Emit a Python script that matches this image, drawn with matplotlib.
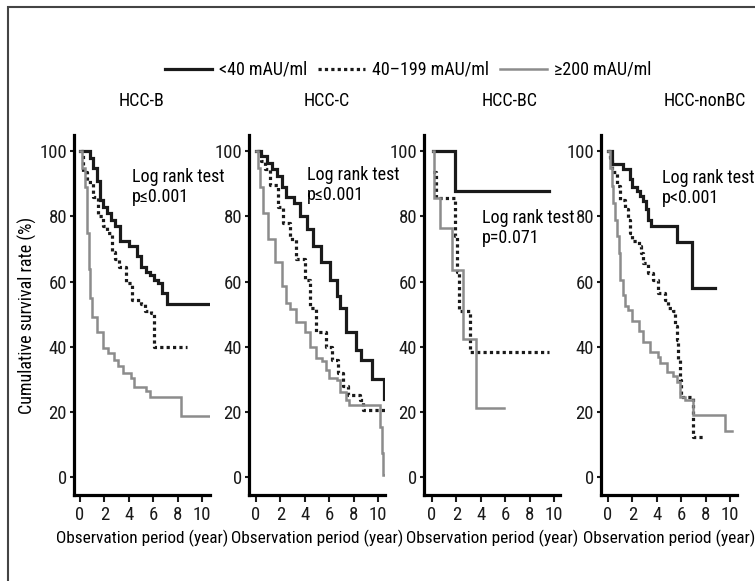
import matplotlib.pyplot as plt
from matplotlib import font_manager as fm
from matplotlib.patches import Rectangle
from matplotlib.lines import Line2D

# pick a narrow face if one is installed
fonts = fm.fontManager.ttflist
narrow = None
for want in ['Liberation Sans Narrow', 'Roboto Condensed', 'Open Sans Condensed', 'Noto Sans Condensed']:
    if any(f.name == want for f in fonts):
        narrow = (want, 'normal')
        break
if narrow is None:
    for f in fonts:
        if f.stretch in ('condensed', 'semi-condensed', 'extra-condensed') and f.style == 'normal':
            narrow = (f.name, f.stretch)
            break
if narrow is None:
    narrow = ('DejaVu Sans', 'normal')
    fs = 10.5
else:
    fs = 13
plt.rcParams['font.family'] = [narrow[0], 'DejaVu Sans']
plt.rcParams['font.stretch'] = narrow[1]

# Kaplan-Meier curves: (time in years, survival %)
titles = ['HCC-B', 'HCC-C', 'HCC-BC', 'HCC-nonBC']
pvals = ['p\u22640.001', 'p\u22640.001', 'p=0.071', 'p<0.001']

b_low_t = [0, 0.8, 1.1, 1.4, 1.67, 1.9, 2.2, 2.5, 2.9, 3.3, 4.0, 4.7, 5.0, 5.4, 5.7, 6.1, 6.4, 6.7, 7.1, 10.6]
b_low_s = [100, 98, 95, 91, 85, 83, 81, 79, 77, 72.5, 71, 68, 64.5, 63, 62, 60.5, 59.5, 56.5, 53, 53]
b_mid_t = [0.05, 0.25, 0.6, 1.1, 1.5, 1.9, 2.2, 2.6, 2.9, 3.2, 3.75, 4.3, 5.0, 5.3, 5.8, 6.1, 8.75]
b_mid_s = [100, 93.5, 90.5, 86, 80, 77, 75, 69, 67, 64.5, 59.5, 54.5, 53, 51, 50.5, 40, 40]
b_high_t = [0, 0.2, 0.4, 0.55, 0.7, 0.85, 1.0, 1.4, 1.9, 2.3, 2.75, 3.1, 3.5, 4.2, 4.45, 5.4, 5.7, 8.3, 10.8]
b_high_s = [100, 95, 89, 75, 64, 55, 49, 44.5, 39.5, 38, 36, 34, 32, 30.5, 27.5, 26.3, 24.7, 18.6, 18.6]

c_low_t = [0, 0.4, 0.9, 1.3, 1.7, 2.1, 2.5, 3.1, 3.6, 4.2, 4.7, 5.3, 6.1, 6.6, 6.9, 7.4, 8.2, 8.6, 9.5, 10.5, 10.6]
c_low_s = [100, 98.5, 96.5, 94.5, 92.5, 89, 86, 84, 80, 76, 71, 66, 60.5, 55.5, 52, 44.5, 39, 36, 30, 24, 24]
c_mid_t = [0.05, 0.4, 0.75, 1.15, 1.8, 2.2, 2.8, 3.3, 4.0, 4.4, 4.9, 5.7, 6.2, 6.75, 7.15, 7.55, 8.5, 8.75, 10.6]
c_mid_s = [100, 97, 94.5, 89.5, 83, 78, 73, 67, 60.5, 52, 44.5, 40, 36, 32, 28, 25.2, 23.7, 20.6, 20.6]
c_high_t = [0, 0.15, 0.35, 0.6, 1.0, 1.55, 2.1, 2.5, 2.8, 3.3, 4.0, 4.4, 4.9, 5.4, 5.75, 6.0, 6.6, 6.9, 7.4, 7.6, 10.2, 10.35, 10.45, 10.5]
c_high_s = [100, 95, 89, 81, 73, 66, 58.5, 53.5, 51.5, 47.5, 44.5, 40, 36.5, 35.5, 33, 30.5, 29.8, 26.2, 23.7, 22.2, 15.5, 7.3, 0.6, 0.6]

bc_low_t = [0.1, 1.87, 9.6]
bc_low_s = [100, 87.8, 87.8]
bc_mid_t = [0.1, 0.3, 1.85, 2.05, 2.2, 3.15, 9.6]
bc_mid_s = [93.5, 85.7, 74, 63, 51, 38.3, 38.3]
bc_high_t = [0.1, 0.15, 0.65, 1.6, 2.55, 3.58, 5.9]
bc_high_s = [100, 85.7, 76.6, 63.7, 42.4, 21.3, 21.3]

n_low_t = [0, 0.3, 1.2, 1.8, 2.0, 2.35, 2.6, 2.9, 3.1, 3.3, 3.5, 5.65, 6.85, 8.8]
n_low_s = [100, 96, 94.5, 91.4, 89, 87.8, 86.2, 84.7, 82.2, 79, 77, 72.2, 58.1, 58.1]
n_mid_t = [0, 0.2, 0.35, 0.7, 1.0, 1.4, 1.6, 1.8, 1.95, 2.5, 2.7, 2.9, 3.3, 3.7, 4.1, 4.7, 4.9, 5.35, 5.5, 5.65, 5.75, 5.9, 6.0, 7.0, 7.8]
n_mid_s = [100, 98, 93.5, 89.3, 85.2, 82.2, 79, 75, 72.4, 70.9, 68.9, 65.8, 62.7, 60.6, 56.6, 54.5, 52, 50.9, 46.3, 42.2, 36, 29.8, 24.7, 12.4, 12.4]
n_high_t = [0, 0.15, 0.3, 0.45, 0.57, 0.75, 0.9, 1.0, 1.2, 1.4, 1.65, 2.0, 2.5, 2.9, 3.45, 4.1, 4.25, 4.8, 5.35, 5.65, 5.9, 6.3, 7.0, 9.6, 10.2]
n_high_s = [100, 95, 89.3, 84, 79, 74, 68.9, 60.6, 56, 52.4, 51.4, 47.8, 44.7, 41.6, 38.5, 37, 35, 32.4, 31, 29.3, 24.7, 23.7, 19.1, 14.2, 14.2]

series = [
    [(b_low_t, b_low_s), (b_mid_t, b_mid_s), (b_high_t, b_high_s)],
    [(c_low_t, c_low_s), (c_mid_t, c_mid_s), (c_high_t, c_high_s)],
    [(bc_low_t, bc_low_s), (bc_mid_t, bc_mid_s), (bc_high_t, bc_high_s)],
    [(n_low_t, n_low_s), (n_mid_t, n_mid_s), (n_high_t, n_high_s)],
]

W, H = 755, 581
fig = plt.figure(figsize=(W / 100, H / 100), dpi=100)

# pixel positions of each panel: left spine, right end, zero tick
lefts = [74, 249, 424, 601]
rights = [210, 385, 560, 737]
zeros = [80, 256, 432, 608]
top, bottom = 135, 495
title_x = [142, 327, 510, 705]
text_pos = [(132, 168), (307, 166), (482, 209), (662, 169)]

styles = [
    dict(color='#1a1a1a', lw=2.3, ls='-'),
    dict(color='#1a1a1a', lw=2.3, ls=(0, (1, 1))),
    dict(color='#8c8c8c', lw=1.8, ls='-'),
]

px_per_year = 12.2
for i in range(4):
    ax = fig.add_axes([lefts[i] / W, 1 - bottom / H, (rights[i] - lefts[i]) / W, (bottom - top) / H])
    ax.patch.set_alpha(0)
    x0 = (lefts[i] - zeros[i]) / px_per_year
    x1 = (rights[i] - zeros[i]) / px_per_year
    ax.set_xlim(x0, x1)
    ax.set_ylim(-5.5, 105)
    for (t, s), st in zip(series[i], styles):
        ax.step(t, s, where='post', solid_joinstyle='miter', **st)
    for sp in ['top', 'right']:
        ax.spines[sp].set_visible(False)
    for sp in ['left', 'bottom']:
        ax.spines[sp].set_linewidth(2.3)
    ax.set_xticks([0, 2, 4, 6, 8, 10])
    ax.set_yticks([0, 20, 40, 60, 80, 100])
    ax.tick_params(labelsize=fs + 0.5, width=1.5, colors='#1a1a1a')
    ax.tick_params(axis='x', length=5, pad=3)
    ax.tick_params(axis='y', length=3, pad=2)
    ax.set_xlabel('Observation period (year)', fontsize=fs - 0.6, labelpad=4)
    if i == 0:
        ax.set_ylabel('Cumulative survival rate (%)', fontsize=fs, labelpad=2)
    fig.text(title_x[i] / W, 1 - 101 / H, titles[i], ha='center', va='center', fontsize=fs)
    fig.text(text_pos[i][0] / W, 1 - text_pos[i][1] / H, 'Log rank test\n' + pvals[i],
             ha='left', va='top', fontsize=fs, linespacing=1.15)

handles = [Line2D([], [], **st) for st in styles]
labels = ['<40 mAU/ml', '40\u2013199 mAU/ml', '\u2265200 mAU/ml']
fig.legend(handles, labels, loc='center', bbox_to_anchor=(0.541, 1 - 70 / H), ncol=3,
           frameon=False, fontsize=fs, handlelength=2.6, handletextpad=0.4, columnspacing=0.6)

# frame round the figure
fig.add_artist(Rectangle((8 / W, -0.1), 1.2, 1.1 - 7 / H, transform=fig.transFigure,
                         fill=False, lw=1.5, edgecolor='#444444'))

plt.savefig('out.png', dpi=100)
